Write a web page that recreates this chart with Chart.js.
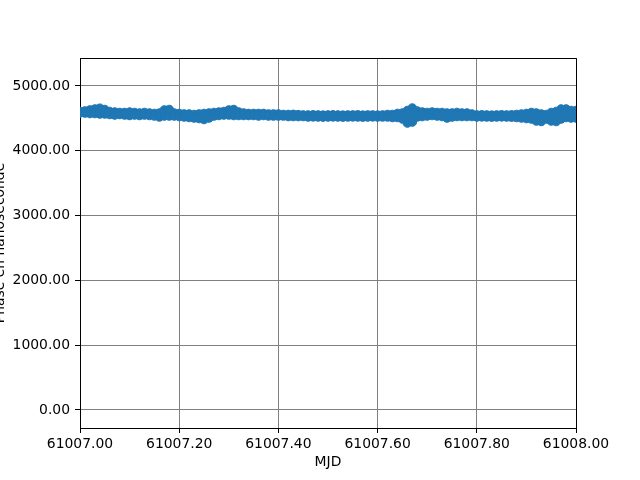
<!DOCTYPE html>
<html>
<head>
<meta charset="utf-8">
<script src="https://cdn.jsdelivr.net/npm/chart.js@4/dist/chart.umd.min.js"></script>
<style>
html,body{margin:0;padding:0;background:#fff;}
canvas{display:block;}
</style>
</head>
<body>
<canvas id="c" width="640" height="480"></canvas>
<script>
// MJD sample times
const mjd = [
61007.00,61007.01,61007.02,61007.03,61007.04,61007.05,61007.06,61007.07,61007.08,61007.09,
61007.10,61007.11,61007.12,61007.13,61007.14,61007.15,61007.16,61007.17,61007.18,61007.19,
61007.20,61007.21,61007.22,61007.23,61007.24,61007.25,61007.26,61007.27,61007.28,61007.29,
61007.30,61007.31,61007.32,61007.33,61007.34,61007.35,61007.36,61007.37,61007.38,61007.39,
61007.40,61007.41,61007.42,61007.43,61007.44,61007.45,61007.46,61007.47,61007.48,61007.49,
61007.50,61007.51,61007.52,61007.53,61007.54,61007.55,61007.56,61007.57,61007.58,61007.59,
61007.60,61007.61,61007.62,61007.63,61007.64,61007.65,61007.66,61007.67,61007.68,61007.69,
61007.70,61007.71,61007.72,61007.73,61007.74,61007.75,61007.76,61007.77,61007.78,61007.79,
61007.80,61007.81,61007.82,61007.83,61007.84,61007.85,61007.86,61007.87,61007.88,61007.89,
61007.90,61007.91,61007.92,61007.93,61007.94,61007.95,61007.96,61007.97,61007.98,61007.99,
61008.00
];
// phase (ns), upper readings of the band
const phaseUpper = [
4606,4614,4630,4645,4657,4637,4606,4598,4591,4591,
4598,4591,4583,4591,4583,4576,4583,4630,4637,4583,
4576,4568,4568,4560,4568,4576,4583,4591,4598,4606,
4630,4637,4598,4583,4576,4576,4576,4576,4568,4568,
4568,4560,4560,4562,4558,4553,4553,4555,4553,4550,
4553,4555,4553,4550,4553,4553,4555,4550,4553,4553,
4550,4553,4560,4560,4576,4583,4622,4660,4614,4598,
4591,4598,4591,4591,4583,4583,4591,4583,4583,4568,
4553,4555,4553,4550,4553,4555,4553,4555,4560,4568,
4576,4591,4583,4568,4560,4591,4606,4645,4645,4622,
4622
];
// phase (ns), middle readings of the band
const phaseMid = [
4595,4598,4602,4610,4612,4602,4583,4575,4575,4571,
4571,4571,4564,4571,4564,4556,4552,4583,4587,4560,
4552,4545,4541,4533,4533,4530,4545,4564,4571,4579,
4591,4591,4571,4564,4560,4560,4556,4560,4552,4552,
4552,4548,4545,4545,4543,4541,4537,4539,4537,4535,
4537,4539,4537,4535,4537,4539,4538,4535,4537,4538,
4536,4537,4541,4537,4545,4537,4525,4552,4568,4564,
4564,4571,4564,4560,4545,4552,4560,4556,4556,4548,
4537,4539,4537,4535,4537,4539,4537,4537,4537,4537,
4537,4541,4521,4510,4525,4525,4529,4568,4580,4564,
4564
];
// phase (ns), lower readings of the band
const phaseLower = [
4583,4583,4575,4575,4568,4568,4560,4552,4560,4552,
4545,4552,4545,4552,4545,4537,4522,4537,4537,4537,
4529,4522,4514,4506,4498,4483,4506,4537,4545,4552,
4552,4545,4545,4545,4545,4545,4537,4545,4537,4537,
4537,4537,4529,4529,4529,4529,4522,4524,4522,4520,
4522,4524,4522,4520,4522,4524,4522,4520,4522,4524,
4522,4522,4522,4514,4514,4491,4429,4444,4522,4529,
4537,4545,4537,4529,4506,4522,4529,4529,4529,4529,
4522,4524,4522,4520,4522,4524,4522,4520,4514,4506,
4498,4491,4460,4452,4491,4460,4452,4491,4514,4506,
4506
];
const xTicks = [61007.0,61007.2,61007.4,61007.6,61007.8,61008.0];
const yTicks = [0,1000,2000,3000,4000,5000];
const xTitle = 'MJD';
const yTitle = 'Phase en nanoseconde';

const points = [];
for (let i = 0; i < mjd.length; i++) {
  points.push({x: mjd[i], y: phaseUpper[i]});
  points.push({x: mjd[i], y: phaseMid[i]});
  points.push({x: mjd[i], y: phaseLower[i]});
}

Chart.defaults.font.family = "'DejaVu Sans', sans-serif";
Chart.defaults.font.size = 13.9;
Chart.defaults.color = '#000';

const frame = {
  id: 'frame',
  afterDatasetsDraw(chart) {
    const {ctx, chartArea: a} = chart;
    ctx.save();
    ctx.strokeStyle = '#000';
    ctx.lineWidth = 1;
    ctx.beginPath();
    ctx.moveTo(Math.round(a.left) + 0.5, Math.round(a.top) + 0.5);
    ctx.lineTo(Math.round(a.right) + 0.5, Math.round(a.top) + 0.5);
    ctx.lineTo(Math.round(a.right) + 0.5, Math.round(a.bottom) + 0.5);
    ctx.stroke();
    ctx.restore();
  }
};

new Chart(document.getElementById('c'), {
  type: 'scatter',
  data: {
    datasets: [{
      data: points,
      backgroundColor: '#1f77b4',
      borderColor: '#1f77b4',
      borderWidth: 1,
      pointRadius: 4.3,
      clip: 0
    }]
  },
  options: {
    responsive: false,
    devicePixelRatio: 1,
    animation: false,
    layout: {padding: {top: 58, right: 64, left: 0, bottom: 0}},
    plugins: {legend: {display: false}, tooltip: {enabled: false}},
    scales: {
      x: {
        type: 'linear',
        min: 61007.0,
        max: 61008.0,
        afterBuildTicks: s => { s.ticks = xTicks.map(v => ({value: v})); },
        afterFit: s => { s.height = 52; },
        ticks: {
          padding: 3,
          maxRotation: 0,
          autoSkip: false,
          callback: v => Number(v).toFixed(2)
        },
        grid: {color: '#808080', lineWidth: 1, tickColor: '#000', tickLength: 5},
        border: {color: '#000', width: 1},
        title: {display: true, text: xTitle, padding: {top: 0, bottom: 9.5}}
      },
      y: {
        type: 'linear',
        min: -277.8,
        max: 5432.1,
        afterBuildTicks: s => { s.ticks = yTicks.map(v => ({value: v})); },
        afterFit: s => { s.width = 80; },
        ticks: {
          padding: 5,
          autoSkip: false,
          callback: v => Number(v).toFixed(2)
        },
        grid: {color: '#808080', lineWidth: 1, tickColor: '#000', tickLength: 5},
        border: {color: '#000', width: 1},
        title: {display: true, text: yTitle, padding: {top: -7.5, bottom: 0}}
      }
    }
  },
  plugins: [frame]
});
</script>
</body>
</html>
